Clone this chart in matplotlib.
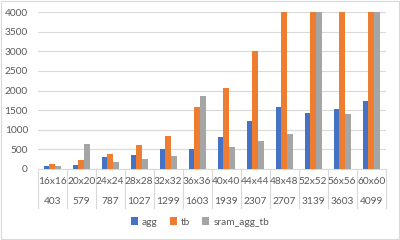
import matplotlib
matplotlib.use('Agg')
import matplotlib.pyplot as plt
import numpy as np

plt.rcParams['font.family'] = ['Lato', 'DejaVu Sans']

sizes = ['16x16', '20x20', '24x24', '28x28', '32x32', '36x36',
         '40x40', '44x44', '48x48', '52x52', '56x56', '60x60']
counts = ['403', '579', '787', '1027', '1299', '1603',
          '1939', '2307', '2707', '3139', '3603', '4099']

# orange/gray bars beyond 4000 are cut off at the axis top in the picture
agg = [68, 110, 306, 357, 500, 510, 816, 1224, 1574, 1429, 1522, 1735]
tb = [128, 222, 374, 612, 849, 1574, 2074, 3018, 4000, 4000, 4000, 4000]
sram_agg_tb = [77, 646, 179, 247, 331, 1854, 561, 714, 893, 4000, 1395, 4000]

series = [('agg', agg, '#4472C4'),
          ('tb', tb, '#ED7D31'),
          ('sram_agg_tb', sram_agg_tb, '#A5A5A5')]

W, H = 400, 240
fs = 7.3
fig = plt.figure(figsize=(W / 100, H / 100), dpi=100)
ax = fig.add_axes([37.7 / W, (H - 169) / H, (385.7 - 37.7) / W, (169 - 12) / H])

grid_col = '#D9D9D9'
text_col = '#595959'

x = np.arange(len(sizes))
bw = 1 / (3 + 2.19)
for i, (name, vals, col) in enumerate(series):
    ax.bar(x + (i - 1) * bw, vals, width=bw, color=col, label=name, zorder=3)

ax.set_xlim(-0.5, len(sizes) - 0.5)
ax.set_ylim(0, 4000)
ax.set_yticks(np.arange(0, 4001, 500))
ax.yaxis.grid(True, color=grid_col, linewidth=0.8, zorder=0)
ax.tick_params(axis='y', length=0, labelsize=fs, labelcolor=text_col, pad=7)
ax.set_xticks([])
for side in ['top', 'right', 'left']:
    ax.spines[side].set_visible(False)
ax.spines['bottom'].set_color(grid_col)
ax.spines['bottom'].set_linewidth(0.8)

# two-level category axis
axh = 169 - 12
trans = ax.get_xaxis_transform()
for k in range(len(sizes) + 1):
    ax.plot([k - 0.5, k - 0.5], [0, -(208 - 169) / axh], color=grid_col,
            linewidth=0.8, transform=trans, clip_on=False)
for k in range(len(sizes)):
    ax.text(k, -(182 - 169) / axh, sizes[k], transform=trans, ha='center',
            va='center', fontsize=fs, color=text_col)
    ax.text(k, -(201 - 169) / axh, counts[k], transform=trans, ha='center',
            va='center', fontsize=fs, color=text_col)

fig.legend(loc='center', bbox_to_anchor=(0.5, (H - 222) / H), ncol=3,
           frameon=False, fontsize=fs, handlelength=0.7, handleheight=0.7,
           handletextpad=0.4, columnspacing=1.2, labelcolor=text_col)

fig.patches.append(plt.Rectangle((0.003, 0.005), 0.994, 0.99, transform=fig.transFigure,
                                 fill=False, edgecolor=grid_col, linewidth=0.8))

fig.savefig('out.png', dpi=100)
